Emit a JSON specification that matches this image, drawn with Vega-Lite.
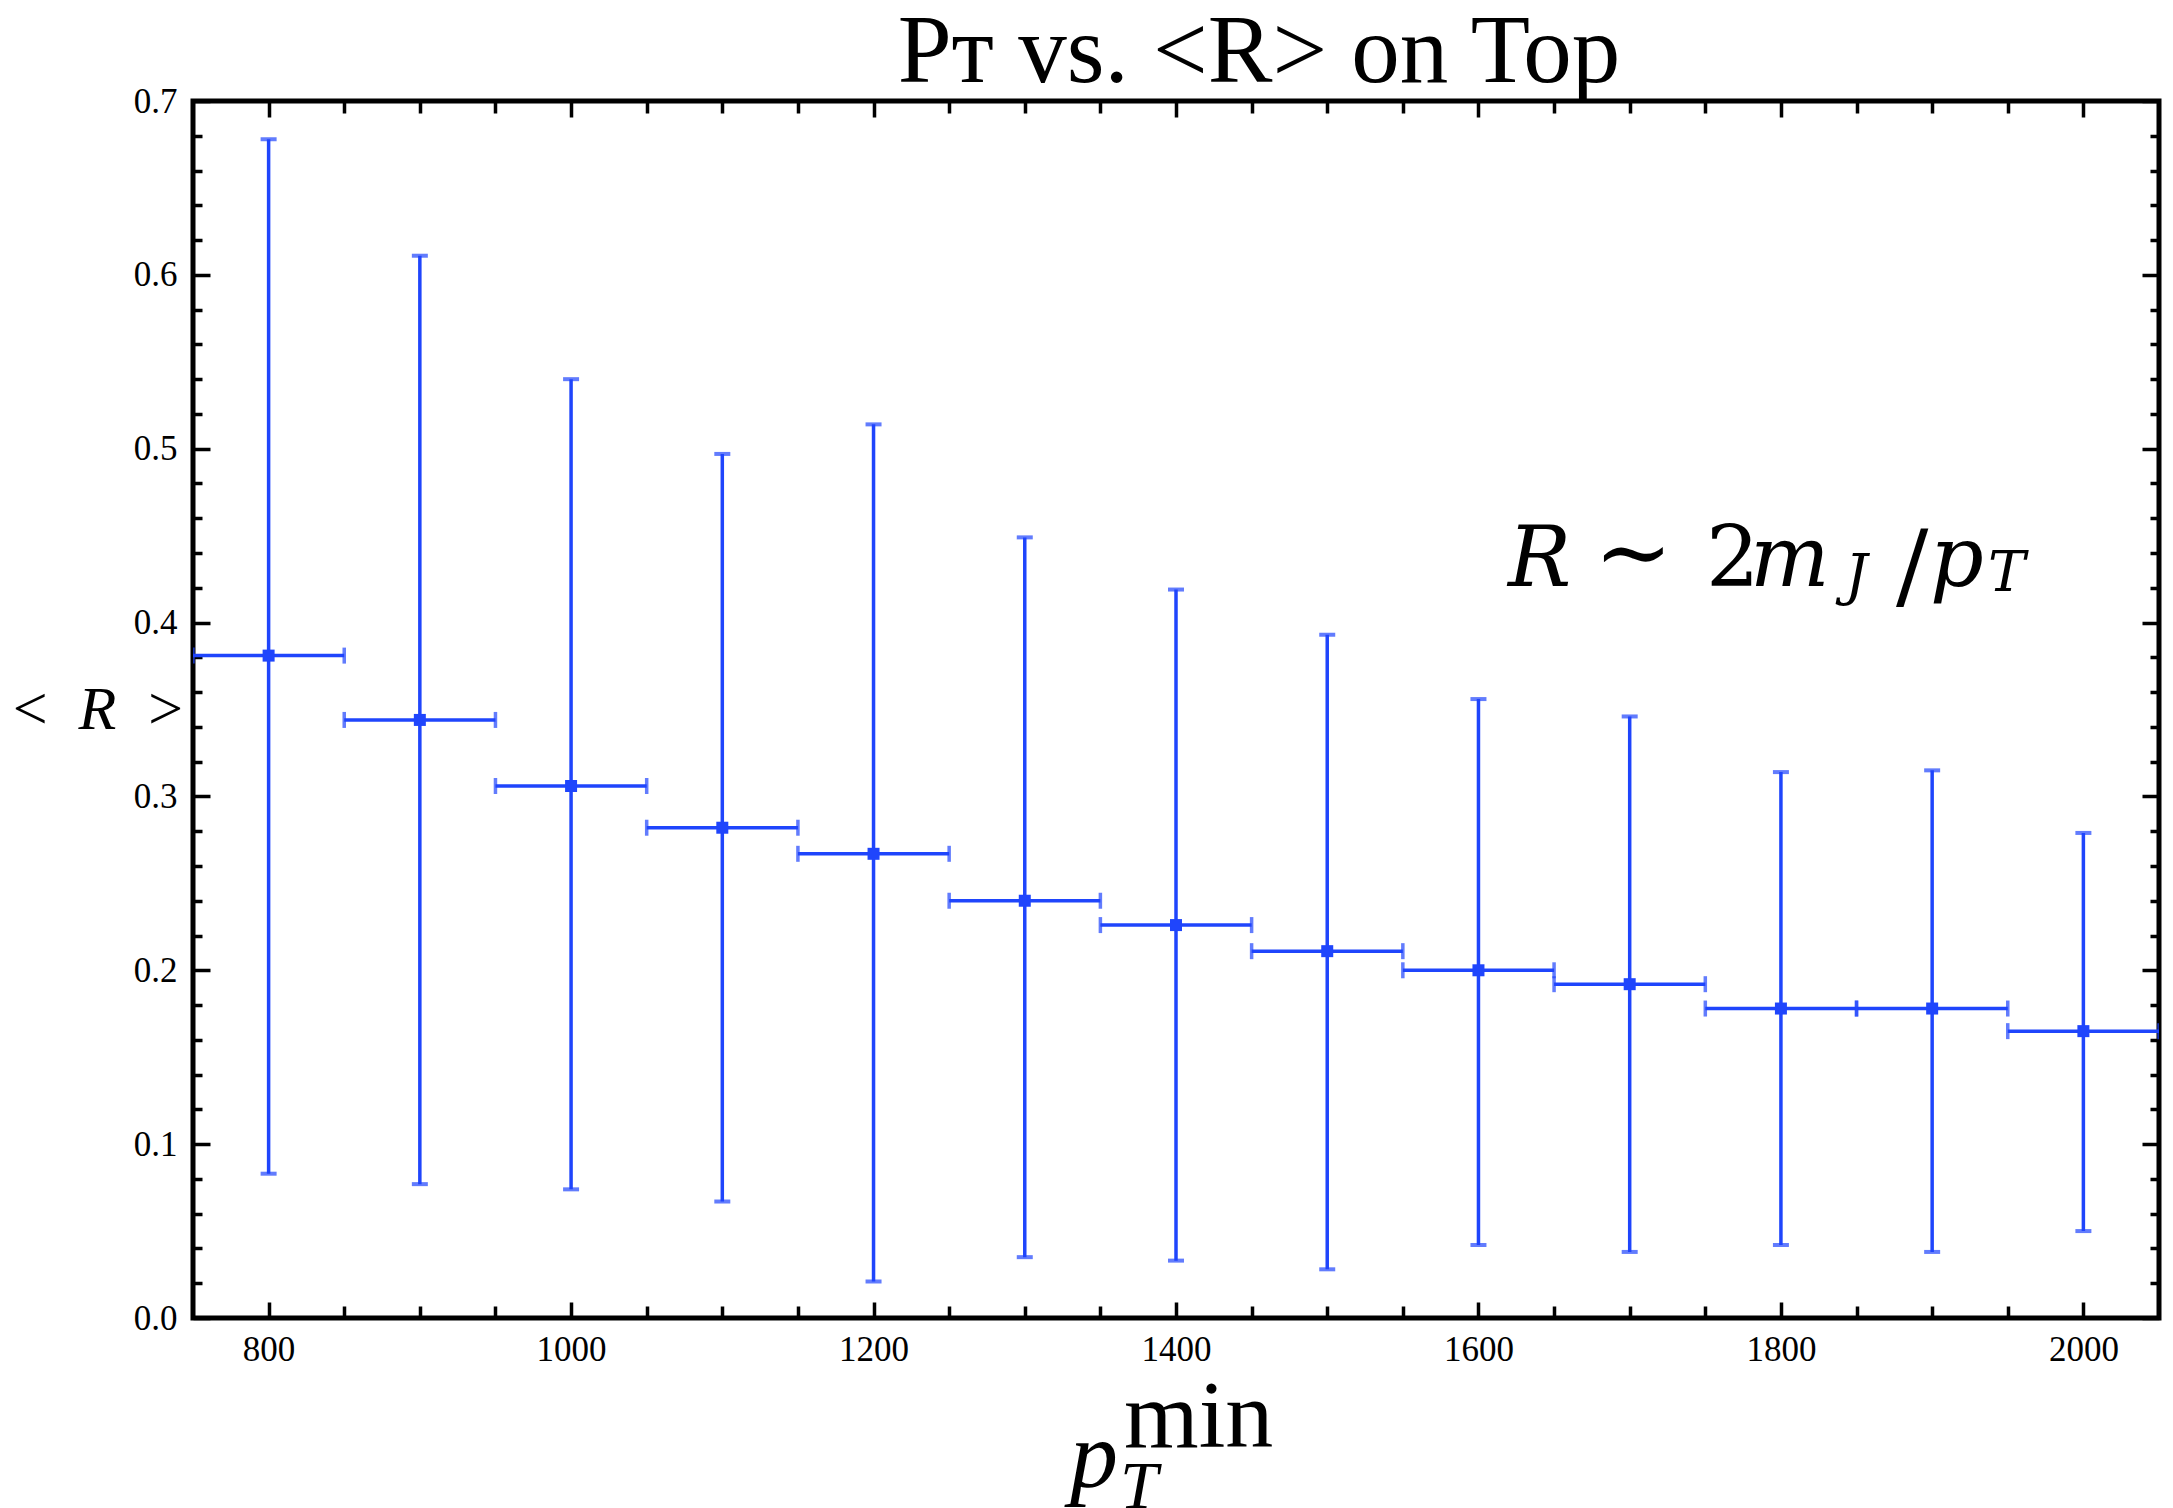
{
  "$schema": "https://vega.github.io/schema/vega-lite/v6.json",
  "width": 1966,
  "height": 1217,
  "autosize": {"type": "none"},
  "padding": {"left": 193, "top": 101, "right": 14, "bottom": 190},
  "background": "white",
  "config": {
    "view": {"stroke": "black", "strokeWidth": 5},
    "axis": {"labelOverlap": false, "labelFlush": false, "labelBound": false}
  },
  "title": {
    "text": "Pᴛ vs. <R> on Top",
    "font": "Liberation Serif",
    "fontSize": 97,
    "fontWeight": "normal",
    "color": "black",
    "anchor": "middle",
    "frame": "group",
    "dx": 83,
    "baseline": "top",
    "offset": -18
  },
  "datasets": {
    "bins": [
      {"p": 800, "xlo": 750, "xhi": 850, "r": 0.381, "lo": 0.083, "hi": 0.678},
      {"p": 900, "xlo": 850, "xhi": 950, "r": 0.344, "lo": 0.077, "hi": 0.611},
      {"p": 1000, "xlo": 950, "xhi": 1050, "r": 0.306, "lo": 0.074, "hi": 0.540},
      {"p": 1100, "xlo": 1050, "xhi": 1150, "r": 0.282, "lo": 0.067, "hi": 0.497},
      {"p": 1200, "xlo": 1150, "xhi": 1250, "r": 0.267, "lo": 0.021, "hi": 0.514},
      {"p": 1300, "xlo": 1250, "xhi": 1350, "r": 0.240, "lo": 0.035, "hi": 0.449},
      {"p": 1400, "xlo": 1350, "xhi": 1450, "r": 0.226, "lo": 0.033, "hi": 0.419},
      {"p": 1500, "xlo": 1450, "xhi": 1550, "r": 0.211, "lo": 0.028, "hi": 0.393},
      {"p": 1600, "xlo": 1550, "xhi": 1650, "r": 0.200, "lo": 0.042, "hi": 0.356},
      {"p": 1700, "xlo": 1650, "xhi": 1750, "r": 0.192, "lo": 0.038, "hi": 0.346},
      {"p": 1800, "xlo": 1750, "xhi": 1850, "r": 0.178, "lo": 0.042, "hi": 0.314},
      {"p": 1900, "xlo": 1850, "xhi": 1950, "r": 0.178, "lo": 0.038, "hi": 0.315},
      {"p": 2000, "xlo": 1950, "xhi": 2050, "r": 0.165, "lo": 0.050, "hi": 0.279}
    ]
  },
  "layer": [
    {
      "data": {"name": "bins"},
      "mark": {"type": "point", "opacity": 0},
      "encoding": {
        "x": {
          "field": "p", "type": "quantitative",
          "scale": {"domain": [750, 2050], "nice": false, "zero": false},
          "axis": {
            "orient": "top",
            "values": [800, 850, 900, 950, 1000, 1050, 1100, 1150, 1200, 1250, 1300, 1350, 1400, 1450, 1500, 1550, 1600, 1650, 1700, 1750, 1800, 1850, 1900, 1950, 2000],
            "labels": false,
            "ticks": false,
            "domain": false,
            "grid": true,
            "gridColor": "black",
            "gridOpacity": 1,
            "gridWidth": 3.5,
            "gridDash": {"condition": {"test": "datum.value % 200 == 0", "value": [16, 1185, 16]}, "value": [12, 1193, 12]},
            "title": null
          }
        },
        "y": {
          "field": "r", "type": "quantitative",
          "scale": {"domain": [0, 0.7], "nice": false, "zero": false},
          "axis": {
            "orient": "right",
            "values": [0, 0.02, 0.04, 0.06, 0.08, 0.1, 0.12, 0.14, 0.16, 0.18, 0.2, 0.22, 0.24, 0.26, 0.28, 0.3, 0.32, 0.34, 0.36, 0.38, 0.4, 0.42, 0.44, 0.46, 0.48, 0.5, 0.52, 0.54, 0.56, 0.58, 0.6, 0.62, 0.64, 0.66, 0.68, 0.7],
            "labels": false,
            "ticks": false,
            "domain": false,
            "grid": true,
            "gridColor": "black",
            "gridOpacity": 1,
            "gridWidth": 3.5,
            "gridDash": {"condition": {"test": "abs(datum.value*10 - round(datum.value*10)) < 0.001", "value": [17, 1932, 17]}, "value": [9, 1948, 9]},
            "title": null
          }
        }
      }
    },
    {
      "data": {"name": "bins"},
      "layer": [
        {
          "mark": {"type": "rule", "color": "#1f45fc", "strokeWidth": 3.5, "clip": true},
          "encoding": {
            "x": {
              "field": "p", "type": "quantitative",
              "axis": {
                "orient": "bottom",
                "values": [800, 1000, 1200, 1400, 1600, 1800, 2000],
                "format": "d",
                "domain": false,
                "grid": false,
                "ticks": false,
                "tickSize": 0,
                "labelFont": "Liberation Serif",
                "labelFontSize": 35,
                "labelColor": "black",
                "labelPadding": 14,
                "labelFlush": false,
                "labelOverlap": false,
                "title": null
              }
            },
            "y": {
              "field": "lo", "type": "quantitative",
              "axis": {
                "orient": "left",
                "values": [0, 0.1, 0.2, 0.3, 0.4, 0.5, 0.6, 0.7],
                "format": ".1f",
                "domain": false,
                "grid": false,
                "ticks": false,
                "tickSize": 0,
                "labelFont": "Liberation Serif",
                "labelFontSize": 35,
                "labelColor": "black",
                "labelPadding": 16,
                "labelFlush": false,
                "labelOverlap": false,
                "title": "< \u2009R\u2009 >",
                "titleAngle": 0,
                "titleX": -96,
                "titleY": 627,
                "titleAlign": "center",
                "titleBaseline": "alphabetic",
                "titleFont": "Liberation Serif",
                "titleFontStyle": "italic",
                "titleFontWeight": "normal",
                "titleFontSize": 62,
                "titleColor": "black"
              }
            },
            "y2": {"field": "hi"}
          }
        },
        {
          "mark": {"type": "rule", "color": "#1f45fc", "strokeWidth": 3.5, "clip": true},
          "encoding": {
            "x": {"field": "xlo", "type": "quantitative"},
            "x2": {"field": "xhi"},
            "y": {"field": "r", "type": "quantitative"}
          }
        },
        {
          "mark": {"type": "tick", "orient": "horizontal", "color": "#1f45fc", "size": 16, "thickness": 4, "clip": true},
          "encoding": {
            "x": {"field": "p", "type": "quantitative"},
            "y": {"field": "hi", "type": "quantitative"}
          }
        },
        {
          "mark": {"type": "tick", "orient": "horizontal", "color": "#1f45fc", "size": 16, "thickness": 4, "clip": true},
          "encoding": {
            "x": {"field": "p", "type": "quantitative"},
            "y": {"field": "lo", "type": "quantitative"}
          }
        },
        {
          "mark": {"type": "tick", "orient": "vertical", "color": "#1f45fc", "size": 16, "thickness": 3.5, "clip": true},
          "encoding": {
            "x": {"field": "xlo", "type": "quantitative"},
            "y": {"field": "r", "type": "quantitative"}
          }
        },
        {
          "mark": {"type": "tick", "orient": "vertical", "color": "#1f45fc", "size": 16, "thickness": 3.5, "clip": true},
          "encoding": {
            "x": {"field": "xhi", "type": "quantitative"},
            "y": {"field": "r", "type": "quantitative"}
          }
        },
        {
          "mark": {"type": "point", "shape": "square", "filled": true, "color": "#1f45fc", "size": 144, "opacity": 1},
          "encoding": {
            "x": {"field": "p", "type": "quantitative"},
            "y": {"field": "r", "type": "quantitative"}
          }
        }
      ]
    },
    {
      "data": {"values": [{}]},
      "mark": {"type": "text", "text": "R", "font": "DejaVu Serif", "fontStyle": "italic", "fontSize": 84, "align": "left", "baseline": "alphabetic", "color": "black", "dx": 0},
      "encoding": {"x": {"datum": 1619.5, "type": "quantitative", "axis": null}, "y": {"datum": 0.421, "type": "quantitative", "axis": null}}
    },
    {
      "data": {"values": [{}]},
      "mark": {"type": "text", "text": "∼", "font": "DejaVu Serif", "fontSize": 94, "align": "left", "baseline": "alphabetic", "color": "black", "dx": 86, "dy": -2},
      "encoding": {"x": {"datum": 1619.5, "type": "quantitative", "axis": null}, "y": {"datum": 0.421, "type": "quantitative", "axis": null}}
    },
    {
      "data": {"values": [{}]},
      "mark": {"type": "text", "text": "2", "font": "DejaVu Serif", "fontSize": 84, "align": "left", "baseline": "alphabetic", "color": "black", "dx": 198},
      "encoding": {"x": {"datum": 1619.5, "type": "quantitative", "axis": null}, "y": {"datum": 0.421, "type": "quantitative", "axis": null}}
    },
    {
      "data": {"values": [{}]},
      "mark": {"type": "text", "text": "m", "font": "DejaVu Serif", "fontStyle": "italic", "fontSize": 84, "align": "left", "baseline": "alphabetic", "color": "black", "dx": 242},
      "encoding": {"x": {"datum": 1619.5, "type": "quantitative", "axis": null}, "y": {"datum": 0.421, "type": "quantitative", "axis": null}}
    },
    {
      "data": {"values": [{}]},
      "mark": {"type": "text", "text": "J", "font": "DejaVu Serif", "fontStyle": "italic", "fontSize": 56, "align": "left", "baseline": "alphabetic", "color": "black", "dx": 337, "dy": 8},
      "encoding": {"x": {"datum": 1619.5, "type": "quantitative", "axis": null}, "y": {"datum": 0.421, "type": "quantitative", "axis": null}}
    },
    {
      "data": {"values": [{}]},
      "mark": {"type": "text", "text": "/", "font": "DejaVu Serif", "fontSize": 96, "align": "left", "baseline": "alphabetic", "color": "black", "dx": 388, "dy": 12},
      "encoding": {"x": {"datum": 1619.5, "type": "quantitative", "axis": null}, "y": {"datum": 0.421, "type": "quantitative", "axis": null}}
    },
    {
      "data": {"values": [{}]},
      "mark": {"type": "text", "text": "p", "font": "DejaVu Serif", "fontStyle": "italic", "fontSize": 84, "align": "left", "baseline": "alphabetic", "color": "black", "dx": 422},
      "encoding": {"x": {"datum": 1619.5, "type": "quantitative", "axis": null}, "y": {"datum": 0.421, "type": "quantitative", "axis": null}}
    },
    {
      "data": {"values": [{}]},
      "mark": {"type": "text", "text": "T", "font": "DejaVu Serif", "fontStyle": "italic", "fontSize": 56, "align": "left", "baseline": "alphabetic", "color": "black", "dx": 480, "dy": 5},
      "encoding": {"x": {"datum": 1619.5, "type": "quantitative", "axis": null}, "y": {"datum": 0.421, "type": "quantitative", "axis": null}}
    },
    {
      "data": {"values": [{}]},
      "mark": {"type": "text", "text": "p", "font": "Liberation Serif", "fontStyle": "italic", "fontSize": 96, "align": "left", "baseline": "alphabetic", "color": "black", "dx": 0},
      "encoding": {"x": {"datum": 1329.9, "type": "quantitative", "axis": null}, "y": {"datum": -0.0972, "type": "quantitative", "axis": null}}
    },
    {
      "data": {"values": [{}]},
      "mark": {"type": "text", "text": "min", "font": "Liberation Serif", "fontSize": 96, "align": "left", "baseline": "alphabetic", "color": "black", "dx": 54, "dy": -40},
      "encoding": {"x": {"datum": 1329.9, "type": "quantitative", "axis": null}, "y": {"datum": -0.0972, "type": "quantitative", "axis": null}}
    },
    {
      "data": {"values": [{}]},
      "mark": {"type": "text", "text": "T", "font": "Liberation Serif", "fontStyle": "italic", "fontSize": 68, "align": "left", "baseline": "alphabetic", "color": "black", "dx": 50, "dy": 21},
      "encoding": {"x": {"datum": 1329.9, "type": "quantitative", "axis": null}, "y": {"datum": -0.0972, "type": "quantitative", "axis": null}}
    }
  ],
  "resolve": {"axis": {"x": "independent", "y": "independent"}}
}
